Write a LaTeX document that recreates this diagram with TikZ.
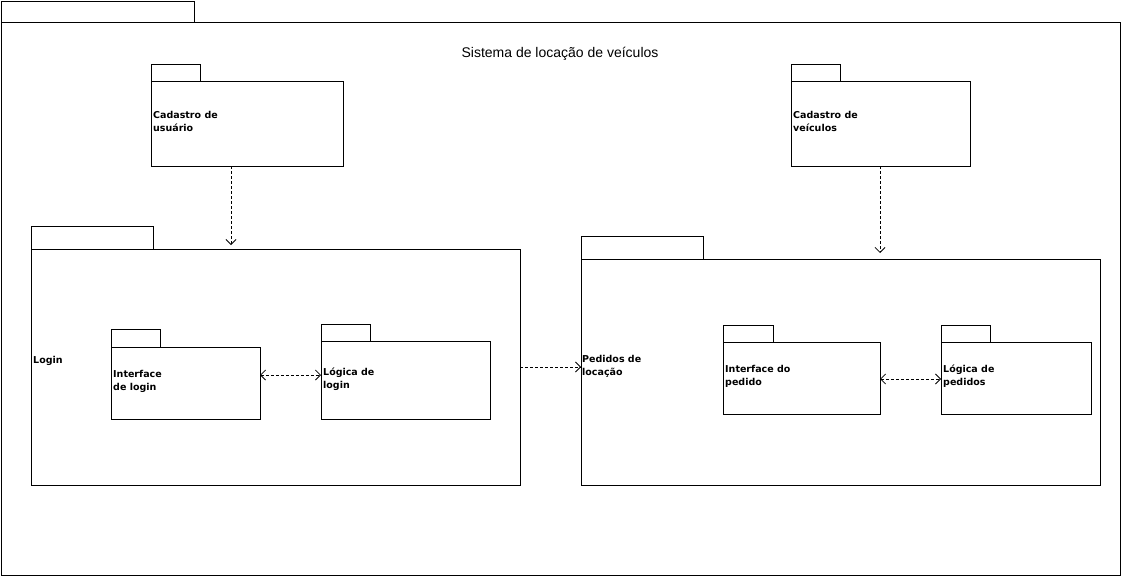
\documentclass[tikz,border=0pt]{standalone}
\usepackage{fontspec}
\setmainfont{Liberation Sans}
\newfontfamily\lblfont{DejaVu Sans}
\usetikzlibrary{arrows.meta}
\tikzset{
  box/.style={draw=black, line width=1pt, inner sep=0pt, outer sep=0pt, anchor=north west, fill=white},
  lbl/.style={anchor=west, inner sep=0pt, align=left, font=\lblfont\bfseries\fontsize{9.5}{13}\selectfont},
  dep/.style={densely dashed, dash pattern=on 3pt off 2pt, line width=0.8pt, -{Straight Barb[length=5pt,width=10pt]}},
  dep2/.style={dep, {Straight Barb[length=5pt,width=10pt]}-{Straight Barb[length=5pt,width=10pt]}}
}
\newcommand{\pkgbox}[7]{% name, x1, tabtop, tabright, bodytop, x2, y2
  \node[box, minimum width=#4pt-#2pt, minimum height=#5pt-#3pt] (#1tab) at (#2,#3) {};
  \node[box, minimum width=#6pt-#2pt, minimum height=#7pt-#5pt] (#1) at (#2,#5) {};
}
\begin{document}
\begin{tikzpicture}[x=1pt,y=-1pt]
\useasboundingbox (0,0) rectangle (1121,576);
% outer package
\pkgbox{sys}{1}{1}{194}{22}{1120}{575}
\node[font=\fontsize{14}{16}\selectfont] (title) at (560,54) {Sistema de locação de veículos};
% cadastro usuario
\pkgbox{cu}{151}{64}{200}{81}{343}{166}
\node[lbl] (cutext) at (153,121.5) {Cadastro de\\usuário};
% cadastro veiculos
\pkgbox{cv}{791}{64}{840}{81}{970}{166}
\node[lbl] (cvtext) at (793,121.5) {Cadastro de\\veículos};
% login
\pkgbox{login}{31}{226}{153}{249}{520}{485}
\node[lbl] (logintext) at (33,361) {Login};
\pkgbox{il}{111}{329}{160}{347}{260}{419}
\node[lbl] (iltext) at (113,381.5) {Interface\\de login};
\pkgbox{ll}{321}{324}{370}{341}{490}{419}
\node[lbl] (lltext) at (323,379.5) {Lógica de\\login};
% pedidos
\pkgbox{ped}{581}{236}{703}{259}{1100}{485}
\node[lbl] (pedtext) at (582,366.5) {Pedidos de\\locação};
\pkgbox{ip}{723}{325}{773}{342}{880}{414}
\node[lbl] (iptext) at (725,376.5) {Interface do\\pedido};
\pkgbox{lp}{941}{325}{990}{342}{1091}{414}
\node[lbl] (lptext) at (943,376.5) {Lógica de\\pedidos};
% connectors
\draw[dep, shorten >=4pt] (cu.south -| 231,0) -- (login.north -| 231,0);
\draw[dep, shorten >=6pt] (cv.south -| 880,0) -- (ped.north -| 880,0);
\draw[dep] (login.east) -- (login.east -| ped.west);
\draw[dep2] (il.east |- 0,375) -- (ll.west |- 0,375);
\draw[dep2] (ip.east |- 0,379) -- (lp.west |- 0,379);
\end{tikzpicture}
\end{document}
